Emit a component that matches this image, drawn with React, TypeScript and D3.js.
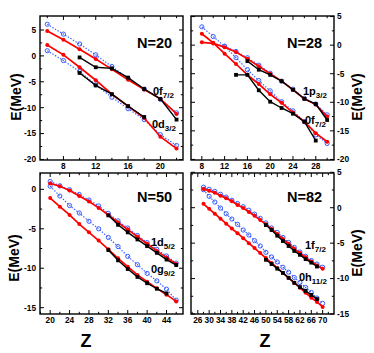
import React from "react";
import * as d3 from "d3";

const W = 374;
const H = 353;
const FONT = "'Liberation Sans', Arial, sans-serif";

// ---------- N = 20 ----------
const zCalc20 = [6, 8, 10, 12, 14, 16, 18, 20, 22];
const blue0f20 = [6.1, 4.2, 2.3, 0.2, -2.05, -4.3, -6.4, -8.4, -11.0];
const red0f20 = [4.8, 3.1, 1.3, -0.6, -2.6, -4.6, -6.5, -8.3, -11.2];
const blue0d20 = [1.0, -0.9, -3.0, -5.6, -8.0, -10.2, -12.3, -15.2, -17.3];
const red0d20 = [2.1, 0.2, -2.2, -4.7, -7.4, -9.7, -12.0, -15.6, -17.9];
const zExp0f20 = [10, 12, 14, 16, 18, 20, 22];
const exp0f20 = [-0.3, -2.2, -2.4, -4.2, -6.4, -8.3, -12.3];
const zExp0d20 = [10, 12, 14, 16, 18];
const exp0d20 = [-3.3, -5.7, -7.4, -9.7, -11.8];

// ---------- N = 28 ----------
const zCalc28 = [8, 10, 12, 14, 16, 18, 20, 22, 24, 26, 28, 30];
const red1p28 = [0.5, 0.3, -0.35, -1.2, -2.4, -3.7, -5.0, -6.3, -7.8, -9.4, -10.4, -12.5];
const zBlue1p28 = [12, 14, 16, 18, 20, 22, 24, 26, 28, 30];
const blue1p28 = [-0.2, -1.1, -2.2, -3.5, -4.9, -6.3, -7.7, -9.3, -10.3, -12.2];
const red0f28 = [2.0, 0.4, -1.5, -3.3, -5.2, -6.8, -8.6, -10.1, -11.8, -13.4, -15.4, -16.9];
const blue0f28 = [3.2, 1.5, -0.2, -2.2, -4.3, -6.2, -8.0, -9.9, -11.5, -13.4, -15.7, -17.2];
const zExp1p28 = [16, 18, 20, 22, 24, 26, 28, 30];
const exp1p28 = [-2.8, -4.3, -5.2, -6.3, -7.8, -9.4, -10.3, -13.1];
const zExp0f28 = [14, 16, 18, 20, 22, 24, 26, 28];
const exp0f28 = [-5.2, -5.2, -7.9, -9.9, -11.0, -12.0, -13.4, -16.7];

// ---------- N = 50 ----------
const zCalc50 = [20, 22, 24, 26, 28, 30, 32, 34, 36, 38, 40, 42, 44, 46];
const blue1d50 = [1.0, 0.45, -0.05, -0.65, -1.35, -2.1, -3.05, -4.0, -4.9, -5.85, -6.75, -7.6, -8.45, -9.35];
const red1d50 = [0.75, 0.4, -0.15, -0.85, -1.55, -2.35, -3.25, -4.2, -5.1, -6.0, -6.9, -7.8, -8.65, -9.45];
const blue0g50 = [0.4, -0.85, -2.05, -3.0, -4.05, -5.0, -6.1, -7.25, -8.5, -9.55, -10.65, -11.6, -12.65, -14.05];
const red0g50 = [-1.1, -2.2, -3.25, -4.4, -5.45, -6.5, -7.6, -8.75, -9.8, -10.85, -11.7, -12.55, -13.35, -14.2];
const zExp1d50 = [32, 34, 36, 38, 40, 42, 44, 46];
const exp1d50 = [-3.3, -4.5, -5.45, -6.35, -7.2, -8.05, -8.9, -9.6];
const zExp0g50 = [32, 34, 36, 38, 40, 42, 44];
const exp0g50 = [-7.7, -9.0, -10.1, -11.1, -11.9, -12.6, -13.2];

// ---------- N = 82 ----------
const zCalc82 = [28, 30, 32, 34, 36, 38, 40, 42, 44, 46, 48, 50, 52, 54, 56, 58, 60, 62, 64, 66, 68, 70];
const blue1f82 = [2.9, 2.6, 2.3, 1.9, 1.5, 1.05, 0.6, 0.15, -0.35, -0.9, -1.5, -2.15, -2.85, -3.5, -4.2, -4.9, -5.6, -6.25, -6.85, -7.45, -7.95, -8.4];
const red1f82 = [2.65, 2.4, 2.1, 1.7, 1.35, 0.9, 0.4, -0.05, -0.6, -1.15, -1.75, -2.35, -3.0, -3.7, -4.4, -5.1, -5.8, -6.4, -7.0, -7.6, -8.15, -8.6];
const blue0h82 = [2.55, 1.6, 0.8, -0.05, -0.85, -1.6, -2.35, -3.15, -3.85, -4.65, -5.4, -6.3, -6.95, -7.65, -8.4, -9.1, -9.85, -10.55, -11.25, -11.95, -12.75, -13.5];
const red0h82 = [0.55, -0.15, -0.85, -1.55, -2.25, -2.95, -3.6, -4.3, -5.0, -5.7, -6.4, -7.1, -7.8, -8.5, -9.2, -9.9, -10.6, -11.3, -12.0, -12.7, -13.3, -14.0];
const zExp82 = [50, 52, 54, 56, 58, 60, 62, 64, 66, 68];
const exp1f82 = [-2.45, -3.15, -3.95, -4.7, -5.4, -6.1, -6.65, -7.25, -7.75, -8.3];
const exp0h82 = [-7.35, -7.95, -8.6, -9.2, -9.9, -10.6, -11.2, -11.75, -12.3, -12.9];

// ---------- ticks ----------
const xTicks20 = [8, 12, 16, 20];
const xMinor20 = [6, 10, 14, 18, 22];
const xTicks28 = [8, 12, 16, 20, 24, 28];
const xMinor28 = [10, 14, 18, 22, 26, 30];
const xTicks50 = [20, 24, 28, 32, 36, 40, 44];
const xMinor50 = [18, 22, 26, 30, 34, 38, 42, 46];
const xTicks82 = [26, 30, 34, 38, 42, 46, 50, 54, 58, 62, 66, 70];
const xMinor82 = [24, 28, 32, 36, 40, 44, 48, 52, 56, 60, 64, 68, 72];
const yTicksTop = [5, 0, -5, -10, -15, -20];
const yMinorTop = [2.5, -2.5, -7.5, -12.5, -17.5];
const yTicks50 = [0, -5, -10, -15];
const yMinor50 = [-2.5, -7.5, -12.5];
const yTicks82 = [5, 0, -5, -10, -15];
const yMinor82 = [2.5, -2.5, -7.5, -12.5];

type Kind = "blue" | "red" | "black";
type Series = { z: number[]; e: number[]; kind: Kind };
type Label = { main: string; sub: string; x: number; y: number };
type PanelDef = {
  box: [number, number, number, number];
  xDomain: [number, number];
  yDomain: [number, number];
  xMajor: number[];
  xMinor: number[];
  yMajor: number[];
  yMinor: number[];
  side: "left" | "right";
  series: Series[];
  title: string;
  titlePos: [number, number];
  labels: Label[];
  xLabelY: number;
};

const S = (z: number[], e: number[], kind: Kind): Series => ({ z, e, kind });

const panels: PanelDef[] = [
  {
    box: [40, 16, 183, 160],
    xDomain: [5.1, 22.8],
    yDomain: [-20.1, 7.7],
    xMajor: xTicks20, xMinor: xMinor20, yMajor: yTicksTop, yMinor: yMinorTop,
    side: "left",
    series: [
      S(zCalc20, blue0f20, "blue"), S(zCalc20, blue0d20, "blue"),
      S(zCalc20, red0f20, "red"), S(zCalc20, red0d20, "red"),
      S(zExp0f20, exp0f20, "black"), S(zExp0d20, exp0d20, "black"),
    ],
    title: "N=20", titlePos: [137, 48],
    labels: [
      { main: "0f", sub: "7/2", x: 153, y: 95 },
      { main: "0d", sub: "3/2", x: 152, y: 128 },
    ],
    xLabelY: 169,
  },
  {
    box: [191, 16, 334, 160],
    xDomain: [6.1, 31.2],
    yDomain: [-20.1, 5.1],
    xMajor: xTicks28, xMinor: xMinor28, yMajor: yTicksTop, yMinor: yMinorTop,
    side: "right",
    series: [
      S(zBlue1p28, blue1p28, "blue"), S(zCalc28, blue0f28, "blue"),
      S(zCalc28, red1p28, "red"), S(zCalc28, red0f28, "red"),
      S(zExp1p28, exp1p28, "black"), S(zExp0f28, exp0f28, "black"),
    ],
    title: "N=28", titlePos: [287, 48],
    labels: [
      { main: "1p", sub: "3/2", x: 303, y: 95 },
      { main: "0f", sub: "7/2", x: 305, y: 124 },
    ],
    xLabelY: 169,
  },
  {
    box: [40, 173, 183, 314],
    xDomain: [17.9, 47.4],
    yDomain: [-15.8, 2.07],
    xMajor: xTicks50, xMinor: xMinor50, yMajor: yTicks50, yMinor: yMinor50,
    side: "left",
    series: [
      S(zCalc50, blue1d50, "blue"), S(zCalc50, blue0g50, "blue"),
      S(zCalc50, red1d50, "red"), S(zCalc50, red0g50, "red"),
      S(zExp1d50, exp1d50, "black"), S(zExp0g50, exp0g50, "black"),
    ],
    title: "N=50", titlePos: [137, 202],
    labels: [
      { main: "1d", sub: "5/2", x: 151, y: 246 },
      { main: "0g", sub: "9/2", x: 151, y: 273 },
    ],
    xLabelY: 323,
  },
  {
    box: [191, 173, 334, 314],
    xDomain: [23.6, 74],
    yDomain: [-15, 4.9],
    xMajor: xTicks82, xMinor: xMinor82, yMajor: yTicks82, yMinor: yMinor82,
    side: "right",
    series: [
      S(zCalc82, blue1f82, "blue"), S(zCalc82, blue0h82, "blue"),
      S(zCalc82, red1f82, "red"), S(zCalc82, red0h82, "red"),
      S(zExp82, exp1f82, "black"), S(zExp82, exp0h82, "black"),
    ],
    title: "N=82", titlePos: [287, 202],
    labels: [
      { main: "1f", sub: "7/2", x: 305, y: 249 },
      { main: "0h", sub: "11/2", x: 299, y: 281 },
    ],
    xLabelY: 323,
  },
];

const BLUE = "#3a5cff";
const RED = "#ff0000";

function Panel({ p }: { p: PanelDef }) {
  const [l, t, r, b] = p.box;
  const x = d3.scaleLinear().domain(p.xDomain).range([l, r]);
  const y = d3.scaleLinear().domain(p.yDomain).range([b, t]);
  const line = d3
    .line<[number, number]>()
    .x((d) => x(d[0]))
    .y((d) => y(d[1]));
  const maj = 4;
  const min = 2.2;
  const order: Kind[] = ["blue", "red", "black"];
  return (
    <g>
      {order.map((k) =>
        p.series
          .filter((s) => s.kind === k)
          .map((s, i) => {
            const pts = s.z.map((z, j) => [z, s.e[j]] as [number, number]);
            const path = line(pts) || "";
            if (k === "blue")
              return (
                <g key={k + i}>
                  <path d={path} fill="none" stroke={BLUE} strokeWidth={1.2} strokeDasharray="1.4 1.6" />
                  {pts.map((d, j) => (
                    <circle key={j} cx={x(d[0])} cy={y(d[1])} r={2.1} fill="none" stroke={BLUE} strokeWidth={1} />
                  ))}
                </g>
              );
            if (k === "red")
              return (
                <g key={k + i}>
                  <path d={path} fill="none" stroke={RED} strokeWidth={1.7} />
                  {pts.map((d, j) => (
                    <circle key={j} cx={x(d[0])} cy={y(d[1])} r={2.0} fill={RED} />
                  ))}
                </g>
              );
            return (
              <g key={k + i}>
                <path d={path} fill="none" stroke="#000" strokeWidth={1.4} />
                {pts.map((d, j) => (
                  <rect key={j} x={x(d[0]) - 1.9} y={y(d[1]) - 1.9} width={3.8} height={3.8} fill="#000" />
                ))}
              </g>
            );
          })
      )}
      {/* frame */}
      <rect x={l} y={t} width={r - l} height={b - t} fill="none" stroke="#000" strokeWidth={1.4} />
      {/* x ticks */}
      {p.xMajor.map((v) => (
        <g key={"xm" + v}>
          <line x1={x(v)} x2={x(v)} y1={b} y2={b - maj} stroke="#000" strokeWidth={1} />
          <line x1={x(v)} x2={x(v)} y1={t} y2={t + maj} stroke="#000" strokeWidth={1} />
          <text x={x(v)} y={p.xLabelY} textAnchor="middle" fontSize={8.3} fontWeight="bold" fontFamily={FONT}>
            {v}
          </text>
        </g>
      ))}
      {p.xMinor
        .filter((v) => v > p.xDomain[0] && v < p.xDomain[1])
        .map((v) => (
          <g key={"xn" + v}>
            <line x1={x(v)} x2={x(v)} y1={b} y2={b - min} stroke="#000" strokeWidth={1} />
            <line x1={x(v)} x2={x(v)} y1={t} y2={t + min} stroke="#000" strokeWidth={1} />
          </g>
        ))}
      {p.yMajor.map((v) => (
        <g key={"ym" + v}>
          <line x1={l} x2={l + maj} y1={y(v)} y2={y(v)} stroke="#000" strokeWidth={1} />
          <line x1={r} x2={r - maj} y1={y(v)} y2={y(v)} stroke="#000" strokeWidth={1} />
          <text
            x={p.side === "left" ? l - 4 : r + 3}
            y={y(v)}
            dy="0.35em"
            textAnchor={p.side === "left" ? "end" : "start"}
            fontSize={8.3}
            fontWeight="bold"
            fontFamily={FONT}
          >
            {v}
          </text>
        </g>
      ))}
      {p.yMinor.map((v) => (
        <g key={"yn" + v}>
          <line x1={l} x2={l + min} y1={y(v)} y2={y(v)} stroke="#000" strokeWidth={1} />
          <line x1={r} x2={r - min} y1={y(v)} y2={y(v)} stroke="#000" strokeWidth={1} />
        </g>
      ))}
      <text x={p.titlePos[0]} y={p.titlePos[1]} fontSize={14.5} fontWeight="bold" fontFamily={FONT}>
        {p.title}
      </text>
      {p.labels.map((lb, i) => (
        <text key={i} x={lb.x} y={lb.y} fontSize={11} fontWeight="bold" fontFamily={FONT}>
          {lb.main}
          <tspan fontSize={8} dy={3}>
            {lb.sub}
          </tspan>
        </text>
      ))}
    </g>
  );
}

export default function App() {
  return (
    <svg
      width={W}
      height={H}
      viewBox={`0 0 ${W} ${H}`}
      style={{ position: "absolute", left: 0, top: 0, background: "#fff" }}
    >
      <rect x={0} y={0} width={W} height={H} fill="#fff" />
      {panels.map((p, i) => (
        <Panel key={i} p={p} />
      ))}
      <text transform="translate(21,97) rotate(-90)" textAnchor="middle" fontSize={14} fontWeight="bold" fontFamily={FONT}>
        E(MeV)
      </text>
      <text transform="translate(19,258) rotate(-90)" textAnchor="middle" fontSize={14} fontWeight="bold" fontFamily={FONT}>
        E(MeV)
      </text>
      <text transform="translate(362,97) rotate(-90)" textAnchor="middle" fontSize={14} fontWeight="bold" fontFamily={FONT}>
        E(MeV)
      </text>
      <text transform="translate(362,253) rotate(-90)" textAnchor="middle" fontSize={14} fontWeight="bold" fontFamily={FONT}>
        E(MeV)
      </text>
      <text x={86} y={347} textAnchor="middle" fontSize={18} fontWeight="bold" fontFamily={FONT}>
        Z
      </text>
      <text x={265} y={347} textAnchor="middle" fontSize={18} fontWeight="bold" fontFamily={FONT}>
        Z
      </text>
    </svg>
  );
}
